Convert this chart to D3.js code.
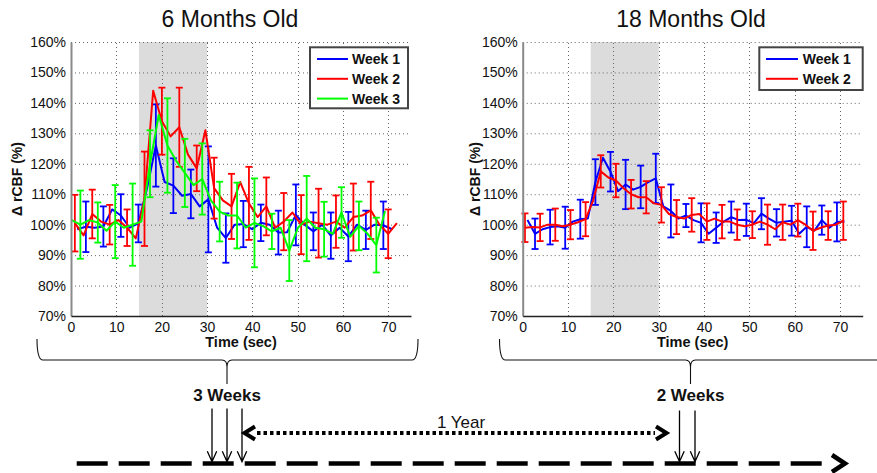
<!DOCTYPE html>
<html>
<head>
<meta charset="utf-8">
<script src="https://cdn.jsdelivr.net/npm/d3@7"></script>
<style>
  html, body { margin: 0; padding: 0; background: #fff; }
  svg { display: block; font-family: "Liberation Sans", Arial, sans-serif; }
</style>
</head>
<body>
<svg id="fig" width="877" height="473"></svg>
<script>
// ---------------- data ----------------
const timeTicks = [0, 10, 20, 30, 40, 50, 60, 70];
const pctTicks = [70, 80, 90, 100, 110, 120, 130, 140, 150, 160];
const timeDomain = [0, 75];
const pctDomain = [70, 160];
const stimWindow = [15, 30];           // stimulus on (s)

const weekNames = ["Week 1", "Week 2", "Week 3"];
const weekColors = ["#0000ff", "#ff0000", "#00ff00"];

// 6 months old: first sample (s), sample period (s), mean rCBF (%), SE half-width (%; null = no bar)
const m6w1Start = 1.35, m6w1Step = 1.93;
const m6w1 = [98.5, 99.3, 99, 99.4, 105, 103, 99, 100.4, 112, 126, 114, 112.8, 109.5, 110.1, 106, 108.3, 99, 95.6, 100,
  100.2, 98.5, 100.6, 100, 97.4, 97.5, 103.2, 100, 97.8, 100, 96.4, 99, 96.1, 100, 98.3, 100, 99.8, 98.5];
const m6w1Err = [null, 8.3, null, 6.6, null, 7, null, 6.2, null, 13.5, null, 9, null, 8, null, 17.4, null, 8.1, null,
  7.6, null, 6, null, 7.2, null, 10, null, 6.2, null, 7.6, null, 8.1, null, 6.3, null, 7.8, null];

const m6w2Start = 0.85, m6w2Step = 1.92;
const m6w2 = [100.5, 96.5, 103.5, 101, 100, 101.5, 99, 95.5, 108.5, 144, 134, 129, 132, 123, 118.5, 131, 112, 108, 106,
  114, 107, 102.5, 106, 99, 101, 104, 100, 101, 100.5, 100, 101, 99, 102.5, 103, 104.7, 100, 97, 100.5];
const m6w2Err = [9.3, null, 8, null, 6.5, null, 6, null, 15.5, null, 11, null, 13, null, 7.5, null, 10, null, 10.7,
  null, 12, null, 9.5, null, 9.4, null, 9.7, null, 11.3, null, 8.6, null, 11, null, 9.4, null, 8, null];

const m6w3Start = 0.15, m6w3Step = 1.92;
const m6w3 = [101.5, 100, 101.5, 100.7, 98, 101, 99, 100, 101, 120, 136, 126, 121, 117, 113, 115, 108, 104.3, 103,
  103, 99, 100.6, 99.5, 97.8, 99, 91.5, 99, 102, 99, 98.5, 97, 104, 96, 99.6, 97, 93.3, 104.5];
const m6w3Err = [null, 11.2, null, 6.6, null, 12, null, 13.5, null, 11, null, 15.5, null, 11.2, null, 11.7, null, 9.8,
  null, 10.8, null, 14.6, null, 5.8, null, 10, null, 14, null, 9, null, 8.3, null, 8, null, 9, null];

// 18 months old
const m18w1Start = 1.05, m18w1Step = 1.665;
const m18w1 = [101.5, 97, 98.5, 99.2, 99.5, 99, 101, 101.8, 102, 114, 122, 117.4, 111, 113.2, 111.5, 112.4, 114, 115.2,
  106, 104.5, 102, 103, 101.5, 100.6, 97, 99, 101, 102.5, 101.5, 101.6, 100.5, 103.6, 102, 100.6, 101, 101.3, 97, 99.3,
  98, 101.5, 99, 100.9, 101];
const m18w1Err = [null, 5, null, 5.7, null, 6.9, null, 6.4, null, 7.5, null, 6.5, null, 8.1, null, 7, null, 8.1, null,
  8.7, null, 3.8, null, 6.4, null, 5, null, 5.1, null, 5.3, null, 5.1, null, 4.5, null, 4.9, null, 6.7, null, 4.8,
  null, 6.4, null];

const m18w2Start = 0.5, m18w2Step = 1.672;
const m18w2 = [99, 99.2, 99.1, 100, 100, 99.5, 100, 100.8, 101.8, 108, 117.5, 115.5, 114.5, 112, 110, 109, 109, 107,
  106.5, 103.5, 102.5, 102, 103.2, 103.5, 101, 102, 101, 101, 100, 99.5, 100, 101, 100, 98.5, 100.8, 100, 101.5, 100,
  98, 99, 99.7, 100, 101.3];
const m18w2Err = [4.7, null, 4.5, null, 5.3, null, 4.8, null, 5.6, null, 5.3, null, 5.5, null, 4.7, null, 5.3, null,
  5.8, null, 5.6, null, 5.5, null, 6, null, 5.5, null, 5, null, 4.4, null, 6.6, null, 5.8, null, 5.4, null, 6.3, null,
  4.7, null, 6.3];

// ---------------- layout ----------------
const svg = d3.select("#fig");
const plotTop = 42, plotBottom = 316;

const panels = [
  {
    title: "6 Months Old", titleX: 230, left: 71, right: 411, yLabelX: 21.5,
    legend: { x: 310, y: 47.3, w: 98, h: 61, lineX0: 317, lineX1: 348, textX: 352 },
    series: [
      { name: weekNames[0], color: weekColors[0], start: m6w1Start, step: m6w1Step, values: m6w1, err: m6w1Err },
      { name: weekNames[1], color: weekColors[1], start: m6w2Start, step: m6w2Step, values: m6w2, err: m6w2Err },
      { name: weekNames[2], color: weekColors[2], start: m6w3Start, step: m6w3Step, values: m6w3, err: m6w3Err }
    ]
  },
  {
    title: "18 Months Old", titleX: 691, left: 522.7, right: 862.7, yLabelX: 479.5,
    legend: { x: 759.3, y: 47.3, w: 103.4, h: 42.7, lineX0: 766, lineX1: 798, textX: 802.7 },
    series: [
      { name: weekNames[0], color: weekColors[0], start: m18w1Start, step: m18w1Step, values: m18w1, err: m18w1Err },
      { name: weekNames[1], color: weekColors[1], start: m18w2Start, step: m18w2Step, values: m18w2, err: m18w2Err }
    ]
  }
];

function drawPanel(p) {
  const g = svg.append("g");
  const x = d3.scaleLinear().domain(timeDomain).range([p.left, p.right]);
  const y = d3.scaleLinear().domain(pctDomain).range([plotBottom, plotTop]);

  // stimulus window
  g.append("rect")
    .attr("x", x(stimWindow[0])).attr("width", x(stimWindow[1]) - x(stimWindow[0]))
    .attr("y", y(pctDomain[1])).attr("height", y(pctDomain[0]) - y(pctDomain[1]))
    .attr("fill", "#dcdcdc");

  // dotted grid
  const grid = g.append("g").attr("stroke", "#666").attr("stroke-width", 1).attr("stroke-dasharray", "1,3");
  grid.selectAll("line.h").data(pctTicks.filter(d => d > pctDomain[0])).join("line").attr("class", "h")
    .attr("x1", x(timeDomain[0])).attr("x2", x(timeDomain[1]))
    .attr("y1", d => y(d) + 0.5).attr("y2", d => y(d) + 0.5);
  grid.selectAll("line.v").data(timeTicks.filter(d => d > timeDomain[0])).join("line").attr("class", "v")
    .attr("x1", d => Math.round(x(d)) + 0.5).attr("x2", d => Math.round(x(d)) + 0.5)
    .attr("y1", y(pctDomain[0])).attr("y2", y(pctDomain[1]));

  // series: mean trace + error bars
  p.series.forEach(s => {
    const pts = s.values.map((v, i) => ({ t: s.start + i * s.step, v: v, e: s.err[i] }));
    const bars = pts.filter(d => d.e != null);
    const eb = g.append("g").attr("stroke", s.color).attr("stroke-width", 1.8).attr("fill", "none");
    eb.selectAll("line.stem").data(bars).join("line").attr("class", "stem")
      .attr("x1", d => x(d.t)).attr("x2", d => x(d.t))
      .attr("y1", d => y(d.v - d.e)).attr("y2", d => y(d.v + d.e));
    eb.selectAll("line.capT").data(bars).join("line").attr("class", "capT")
      .attr("x1", d => x(d.t) - 3.5).attr("x2", d => x(d.t) + 3.5)
      .attr("y1", d => y(d.v + d.e)).attr("y2", d => y(d.v + d.e));
    eb.selectAll("line.capB").data(bars).join("line").attr("class", "capB")
      .attr("x1", d => x(d.t) - 3.5).attr("x2", d => x(d.t) + 3.5)
      .attr("y1", d => y(d.v - d.e)).attr("y2", d => y(d.v - d.e));
    g.append("path").datum(pts)
      .attr("d", d3.line().x(d => x(d.t)).y(d => y(d.v)))
      .attr("fill", "none").attr("stroke", s.color).attr("stroke-width", 2)
      .attr("stroke-linejoin", "round");
  });

  // axes
  const ay = g.append("g").attr("transform", `translate(${p.left},0)`)
    .call(d3.axisLeft(y).tickValues(pctTicks).tickFormat(d => d + "%").tickSize(0).tickPadding(5));
  ay.select(".domain").attr("stroke", "#8a8a8a").attr("stroke-width", 2);
  ay.selectAll("text").attr("font-size", 14).attr("fill", "#111").attr("font-family", "Liberation Sans, Arial, sans-serif");

  const ax = g.append("g").attr("transform", `translate(0,${plotBottom})`)
    .call(d3.axisBottom(x).tickValues(timeTicks).tickSize(0).tickPadding(6));
  ax.select(".domain").attr("stroke", "#222").attr("stroke-width", 1.3);
  ax.selectAll("text").attr("font-size", 14).attr("fill", "#111").attr("font-family", "Liberation Sans, Arial, sans-serif");

  // titles and axis labels
  g.append("text").attr("x", p.titleX).attr("y", 27).attr("text-anchor", "middle")
    .attr("font-size", 23).attr("fill", "#111").text(p.title);
  g.append("text").attr("x", (p.left + p.right) / 2).attr("y", 347).attr("text-anchor", "middle")
    .attr("font-size", 14.5).attr("font-weight", "bold").attr("fill", "#111").text("Time (sec)");
  g.append("text").attr("transform", `translate(${p.yLabelX},${(plotTop + plotBottom) / 2}) rotate(-90)`)
    .attr("text-anchor", "middle").attr("font-size", 14).attr("font-weight", "bold").attr("fill", "#111")
    .text("\u0394 rCBF (%)");

  // legend
  const L = p.legend;
  const lg = g.append("g");
  lg.append("rect").attr("x", L.x).attr("y", L.y).attr("width", L.w).attr("height", L.h)
    .attr("fill", "#fff").attr("stroke", "#444").attr("stroke-width", 2);
  p.series.forEach((s, i) => {
    const ry = L.y + 11.7 + i * 19.8;
    lg.append("line").attr("x1", L.lineX0).attr("x2", L.lineX1).attr("y1", ry).attr("y2", ry)
      .attr("stroke", s.color).attr("stroke-width", 2);
    lg.append("text").attr("x", L.textX).attr("y", ry + 5).attr("font-size", 14).attr("font-weight", "bold")
      .attr("fill", "#111").text(s.name);
  });
}

panels.forEach(drawPanel);

// ---------------- timeline annotation ----------------
const ann = svg.append("g");
const braceTop = 339, braceMid = 360, braceTip = 384;

function bracePath(x1, x2, xc) {
  const r = 6;
  return `M${x1},${braceTop} Q${x1},${braceMid} ${x1 + r},${braceMid} L${xc - 5},${braceMid} ` +
         `Q${xc},${braceMid} ${xc},${braceMid + 7} L${xc},${braceTip} ` +
         `M${x2},${braceTop} Q${x2},${braceMid} ${x2 - r},${braceMid} L${xc + 5},${braceMid} ` +
         `Q${xc},${braceMid} ${xc},${braceMid + 7}`;
}

const groups = [
  { label: "3 Weeks", braceL: 37, braceR: 418, center: 227, arrows: [212, 227, 242], arrowTop: 408.5 },
  { label: "2 Weeks", braceL: 499.5, braceR: 905, center: 690.5, arrows: [679.5, 695], arrowTop: 410.5 }
];
const arrowTipY = 461.7;

groups.forEach(gp => {
  ann.append("path").attr("d", bracePath(gp.braceL, gp.braceR, gp.center))
    .attr("fill", "none").attr("stroke", "#111").attr("stroke-width", 1.1);
  ann.append("text").attr("x", gp.center).attr("y", 401).attr("text-anchor", "middle")
    .attr("font-size", 17).attr("font-weight", "bold").attr("fill", "#111").text(gp.label);
  gp.arrows.forEach(ax => {
    ann.append("path")
      .attr("d", `M${ax},${gp.arrowTop} L${ax},${arrowTipY} M${ax - 4.7},${arrowTipY - 10.5} L${ax},${arrowTipY} L${ax + 4.7},${arrowTipY - 10.5}`)
      .attr("fill", "none").attr("stroke", "#000").attr("stroke-width", 1.3);
  });
});

// one-year interval (dotted double arrow)
const yearY = 433;
ann.append("line").attr("x1", 257).attr("x2", 655).attr("y1", yearY).attr("y2", yearY)
  .attr("stroke", "#000").attr("stroke-width", 4).attr("stroke-dasharray", "3.5,3");
ann.append("path").attr("d", `M255,${yearY - 6.5} L244.5,${yearY} L255,${yearY + 6.5}`)
  .attr("fill", "none").attr("stroke", "#000").attr("stroke-width", 4).attr("stroke-linejoin", "miter");
ann.append("path").attr("d", `M656,${yearY - 6.5} L666.5,${yearY} L656,${yearY + 6.5}`)
  .attr("fill", "none").attr("stroke", "#000").attr("stroke-width", 4).attr("stroke-linejoin", "miter");
ann.append("text").attr("x", 461).attr("y", 427.5).attr("text-anchor", "middle")
  .attr("font-size", 17).attr("fill", "#111").text("1 Year");

// age axis (dashed) with arrow head
const ageY = 463.5;
ann.append("line").attr("x1", 76.7).attr("x2", 821.7).attr("y1", ageY).attr("y2", ageY)
  .attr("stroke", "#000").attr("stroke-width", 4.5).attr("stroke-dasharray", "31,11");
ann.append("path").attr("d", `M832,${ageY - 8.5} L845,${ageY} L832,${ageY + 8.5}`)
  .attr("fill", "none").attr("stroke", "#000").attr("stroke-width", 4.5).attr("stroke-linejoin", "miter");
</script>
</body>
</html>
